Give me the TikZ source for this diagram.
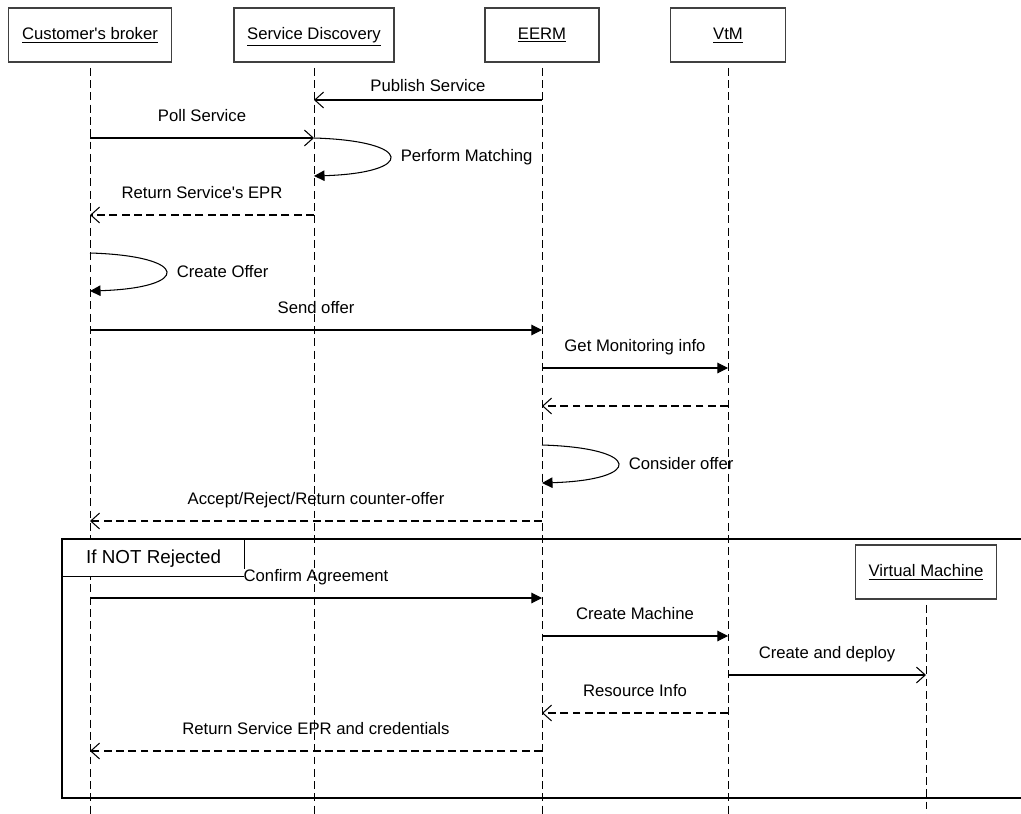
\documentclass[tikz,border=0pt]{standalone}
\usepackage{fontspec}
\setmainfont{Liberation Sans}
\usetikzlibrary{arrows.meta}

\tikzset{
  head/.style={draw=black!75, line width=0.6pt, minimum height=1.08cm, inner sep=0pt,
               text height=7pt, text depth=2pt},
  lifeline/.style={line width=0.5pt, dash pattern=on 4.5pt off 2.5pt},
  call/.style={line width=0.6pt, -{Triangle[length=6pt,width=6pt]}},
  async/.style={line width=0.6pt, -{Straight Barb[length=5pt,width=9pt]}},
  reply/.style={line width=0.6pt, dash pattern=on 4.5pt off 2.5pt, -{Straight Barb[length=5pt,width=9pt]}},
  lbl/.style={midway, above=6pt, inner sep=1pt, text height=7pt, text depth=2pt},
  selflbl/.style={pos=0.5, right=5pt, inner sep=1pt}
}

\begin{document}
\begin{tikzpicture}[x=0.02cm, y=-0.02cm, font=\fontsize{9.5}{11}\selectfont]
  \useasboundingbox (0,0) rectangle (1021,814);

  % Lifeline heads
  \node[head, minimum width=3.26cm] (cb) at (90,35) {\underline{Customer\textquotesingle s broker}};
  \node[head, minimum width=3.2cm] (sd) at (314,35) {\underline{Service Discovery}};
  \node[head, minimum width=2.28cm] (eerm) at (542,35) {\underline{EERM}};
  \node[head, minimum width=2.3cm] (vtm) at (728,35) {\underline{VtM}};
  \node[head, minimum width=2.82cm] (vm) at (926,572) {\underline{Virtual Machine}};

  % Message levels
  \path
  (0,100) coordinate(y1)
  (0,138) coordinate(y2)
  (0,176) coordinate(y3)
  (0,215) coordinate(y4)
  (0,253) coordinate(y5)
  (0,291) coordinate(y6)
  (0,330) coordinate(y7)
  (0,368) coordinate(y8)
  (0,406) coordinate(y9)
  (0,445) coordinate(y10)
  (0,483) coordinate(y11)
  (0,521) coordinate(y12)
  (0,598) coordinate(y13)
  (0,636) coordinate(y14)
  (0,675) coordinate(y15)
  (0,713) coordinate(y16)
  (0,751) coordinate(y17)
  (0,814) coordinate(bottom);

  % Lifelines
  \foreach \p in {cb,sd,eerm,vtm,vm}
    \draw[lifeline] ([yshift=-3pt]\p.south) -- (\p.south |- bottom);

  % Combined fragment
  \draw[line width=0.9pt] (1030,539) -- (62,539) coordinate(frame) -- (62,798) -- (1030,798);
  \node[anchor=north west, fill=white, minimum width=3.62cm, minimum height=0.72cm,
        font=\fontsize{10.7}{12}\selectfont] (tab) at ([xshift=0.45pt,yshift=-0.45pt]frame) {If NOT Rejected};
  \draw[line width=0.7pt] (tab.north east) -- ([yshift=4pt]tab.south east);
  \draw[line width=0.7pt] (tab.south west -| frame) -- (tab.south east);

  % Messages
  \draw[async] (eerm |- y1) -- node[midway, above=1pt] (publish) {Publish Service} (sd |- y1);
  \draw[async] (cb |- y2) -- node[lbl] (poll) {Poll Service} (sd |- y2);
  \draw[call] (sd |- y2) .. controls (415,141) and (415,173) .. node[selflbl] (match) {Perform Matching} (sd |- y3);
  \draw[reply] (sd |- y4) -- node[lbl] (epr) {Return Service\textquotesingle s EPR} (cb |- y4);
  \draw[call] (cb |- y5) .. controls (191,256) and (191,288) .. node[selflbl] (offer) {Create Offer} (cb |- y6);
  \draw[call] (cb |- y7) -- node[lbl] (send) {Send offer} (eerm |- y7);
  \draw[call] (eerm |- y8) -- node[lbl] (monitor) {Get Monitoring info} (vtm |- y8);
  \draw[reply] (vtm |- y9) -- (eerm |- y9);
  \draw[call] (eerm |- y10) .. controls (643,448) and (643,480) .. node[selflbl] (consider) {Consider offer} (eerm |- y11);
  \draw[reply] (eerm |- y12) -- node[lbl] (answer) {Accept/Reject/Return counter-offer} (cb |- y12);
  \draw[call] (cb |- y13) -- node[lbl] (confirm) {Confirm Agreement} (eerm |- y13);
  \draw[call] (eerm |- y14) -- node[lbl] (create) {Create Machine} (vtm |- y14);
  \draw[async] (vtm |- y15) -- node[lbl] (deploy) {Create and deploy} (vm |- y15);
  \draw[reply] (vtm |- y16) -- node[lbl] (resource) {Resource Info} (eerm |- y16);
  \draw[reply] (eerm |- y17) -- node[lbl] (creds) {Return Service EPR and credentials} (cb |- y17);
\end{tikzpicture}
\end{document}
